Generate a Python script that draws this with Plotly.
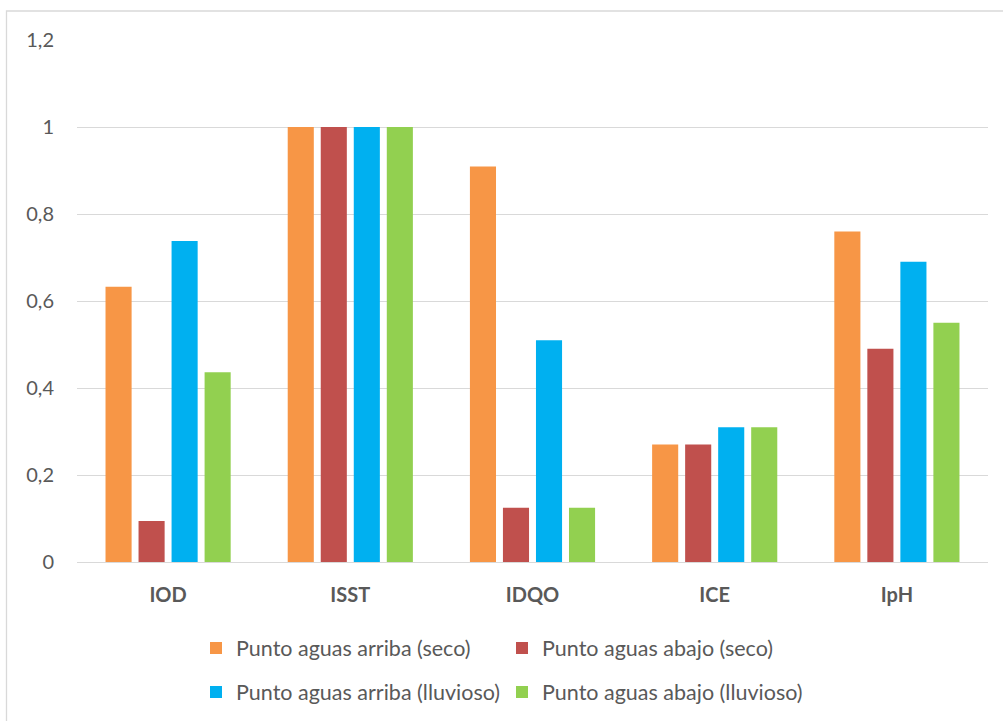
import plotly.graph_objects as go

categories = ["IOD", "ISST", "IDQO", "ICE", "IpH"]
series_names = [
    "Punto aguas arriba (seco)",
    "Punto aguas abajo (seco)",
    "Punto aguas arriba (lluvioso)",
    "Punto aguas abajo (lluvioso)",
]
arriba_seco = [0.633, 1.0, 0.909, 0.27, 0.76]
abajo_seco = [0.094, 1.0, 0.125, 0.27, 0.49]
arriba_lluvioso = [0.738, 1.0, 0.51, 0.31, 0.69]
abajo_lluvioso = [0.436, 1.0, 0.125, 0.31, 0.55]
y_ticks = [0, 0.2, 0.4, 0.6, 0.8, 1.0, 1.2]

colors = ["#F79646", "#C0504D", "#00B0F0", "#92D050"]
legends = ["legend", "legend", "legend2", "legend2"]
values = [arriba_seco, abajo_seco, arriba_lluvioso, abajo_lluvioso]

FONT = "Lato"
TXT = "#595959"

fig = go.Figure()
for name, vals, col, lg in zip(series_names, values, colors, legends):
    fig.add_trace(go.Bar(
        x=categories, y=vals, name=name,
        marker=dict(color=col, line=dict(width=0)),
        legend=lg,
    ))

L, R, T, B = 77, 15, 40, 159
W, H = 1003, 721
pw = W - L - R
ph = H - T - B

def px_x(p):
    return (p - L) / pw

def px_y(p):
    return (H - B - p) / ph

legend_common = dict(
    orientation="h",
    xanchor="left",
    yanchor="middle",
    xref="container",
    yref="container",
    x=196 / W,
    font=dict(family=FONT, size=21.5, color=TXT),
    bgcolor="rgba(0,0,0,0)",
    borderwidth=0,
    entrywidth=261,
    entrywidthmode="pixels",
    traceorder="normal",
)

fig.update_layout(
    width=W, height=H,
    margin=dict(l=L, r=R, t=T, b=B, pad=0, autoexpand=False),
    paper_bgcolor="white",
    plot_bgcolor="white",
    separators=",.",
    barmode="group",
    bargap=0.275,
    bargroupgap=0.21,
    font=dict(family=FONT, color=TXT),
    legend=dict(**legend_common, y=1 - 648 / H),
    legend2=dict(**legend_common, y=1 - 692 / H),
    xaxis=dict(
        showgrid=False,
        showline=False,
        ticks="",
        tickfont=dict(family=FONT, size=20, color=TXT, weight="bold"),
        ticklabelstandoff=19,
    ),
    yaxis=dict(
        range=[0, 1.2],
        tickvals=y_ticks,
        showgrid=True,
        gridcolor="#D9D9D9",
        gridwidth=1,
        zeroline=True,
        zerolinecolor="#D9D9D9",
        zerolinewidth=1,
        showline=False,
        ticks="",
        tickfont=dict(family=FONT, size=20, color=TXT),
        ticklabelstandoff=22,
    ),
    shapes=[dict(
        type="rect", xref="paper", yref="paper",
        x0=px_x(6.5), x1=px_x(1010), y0=px_y(740), y1=px_y(11),
        line=dict(color="#D9D9D9", width=1.3),
        fillcolor="rgba(0,0,0,0)",
        layer="below",
    )],
)

fig.write_html(
    "out.html",
    config={"displayModeBar": False},
    post_script="document.body.style.margin='0px';",
)
